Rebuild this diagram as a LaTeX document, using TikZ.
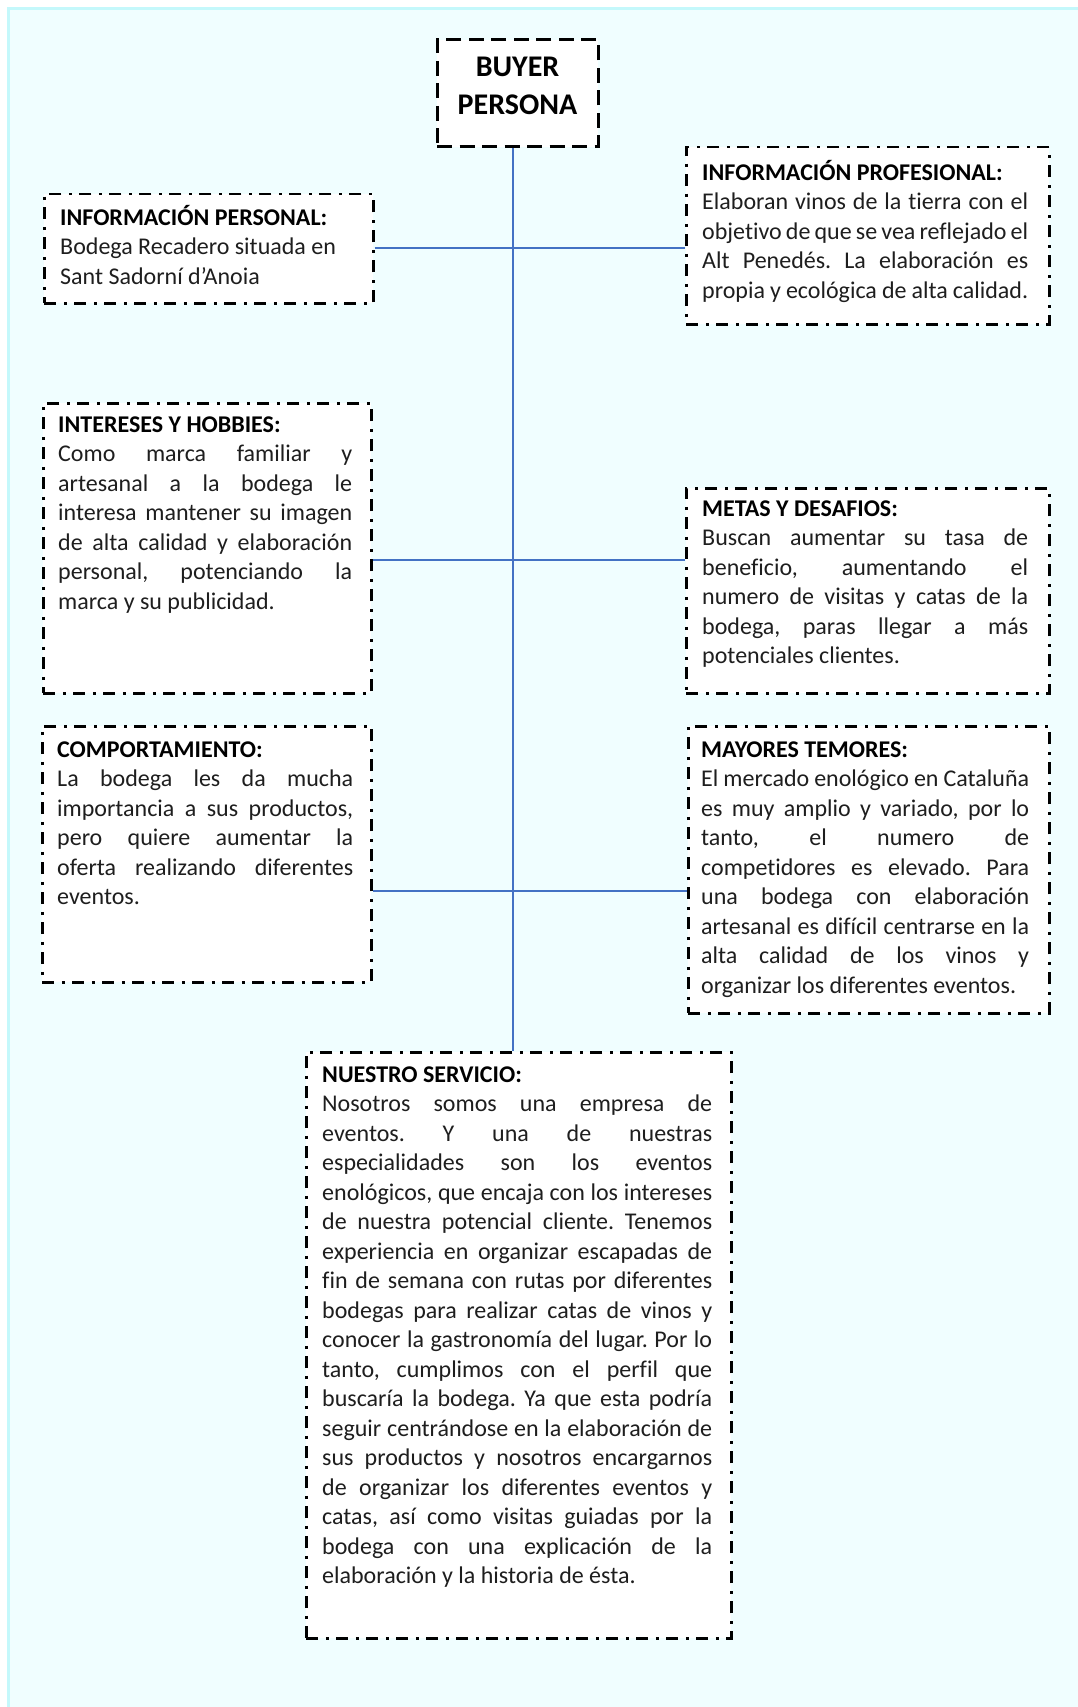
\documentclass[tikz,border=0pt]{standalone}
\usepackage{fontspec}
\setmainfont{Carlito}[Ligatures={NoCommon}]
\definecolor{pagecyan}{HTML}{F0FEFF}
\definecolor{framecyan}{HTML}{C4F8FB}
\definecolor{linkblue}{HTML}{4472C4}
\definecolor{ink}{HTML}{1E1E1E}
\hbadness=10000
\frenchspacing
\tikzset{
  panel/.style={draw=black, fill=white, line width=2.5pt,
    dash pattern=on 12pt off 7.5pt on 3pt off 7.5pt,
    anchor=north west, inner sep=0pt},
  titlebox/.style={draw=black, fill=white, line width=3pt,
    dash pattern=on 15pt off 7.5pt, inner sep=0pt,
    minimum width=161pt, minimum height=107pt},
  body/.style={anchor=north west, inner sep=0pt, align=justify, text=ink,
    font={\fontsize{24}{29.5}\selectfont\frenchspacing\spaceskip=0.226em plus 0.8em minus 0.12em\parskip=0pt}},
  link/.style={draw=linkblue, line width=2pt},
}
\newcommand{\hd}[2]{\rule{0pt}{#1pt}\textbf{\color{black}#2}\par}
\begin{document}
\begin{tikzpicture}[x=1pt,y=-1pt]
  \useasboundingbox (0,0) rectangle (1078,1707);
  % page background with its light frame
  \fill[white] (0,0) rectangle (1078,1707);
  \fill[pagecyan] (8.5,8.5) rectangle (1078,1707);
  \draw[framecyan, line width=3pt] (8.5,1707) -- (8.5,8.5) -- (1078,8.5);

  % title box
  \node[titlebox] (buyer) at (517.5,93.5) {};
  \node[font={\fontsize{30}{38}\selectfont\bfseries}, align=center, inner sep=0pt]
    (buyertext) at (517.5,86) {BUYER\\PERSONA};

  % panels
  \node[panel, minimum width=329pt, minimum height=109pt] (personal) at (43,193) {};
  \node[panel, minimum width=363pt, minimum height=177pt] (profesional) at (685,146) {};
  \node[panel, minimum width=328pt, minimum height=290pt] (intereses) at (42,402) {};
  \node[panel, minimum width=363pt, minimum height=205pt] (metas) at (685,487) {};
  \node[panel, minimum width=329pt, minimum height=256pt] (comportamiento) at (41,725) {};
  \node[panel, minimum width=361pt, minimum height=287pt] (temores) at (687,725) {};
  \node[panel, minimum width=425pt, minimum height=586pt] (servicio) at (305,1051) {};

  % panel texts
  \node[body, text width=300pt] (personaltext) at (60,193) {\hd{32}{INFORMACIÓN PERSONAL:}%
    Bodega Recadero situada en\newline Sant Sadorní d’Anoia};
  \node[body, text width=326pt] (profesionaltext) at (702,146) {\hd{34}{INFORMACIÓN PROFESIONAL:}%
    Elaboran vinos de la tierra con el\linebreak
    objetivo de que se vea reflejado el\linebreak
    Alt Penedés. La elaboración es\linebreak
    propia y ecológica de alta calidad.};
  \node[body, text width=294pt] (interesestext) at (58,402) {\hd{30}{INTERESES Y HOBBIES:}%
    Como marca familiar y\linebreak
    artesanal a la bodega le\linebreak
    interesa mantener su imagen\linebreak
    de alta calidad y elaboración\linebreak
    personal, potenciando la\linebreak
    marca y su publicidad.};
  \node[body, text width=326pt] (metastext) at (702,487) {\hd{29}{METAS Y DESAFIOS:}%
    Buscan aumentar su tasa de\linebreak
    beneficio, aumentando el\linebreak
    numero de visitas y catas de la\linebreak
    bodega, paras llegar a más\linebreak
    potenciales clientes.};
  \node[body, text width=296pt] (comportamientotext) at (57,725) {\hd{32}{COMPORTAMIENTO:}%
    La bodega les da mucha\linebreak
    importancia a sus productos,\linebreak
    pero quiere aumentar la\linebreak
    oferta realizando diferentes\linebreak
    eventos.};
  \node[body, text width=328pt] (temorestext) at (701,725) {\hd{32}{MAYORES TEMORES:}%
    El mercado enológico en Cataluña\linebreak
    es muy amplio y variado, por lo\linebreak
    tanto, el numero de\linebreak
    competidores es elevado. Para\linebreak
    una bodega con elaboración\linebreak
    artesanal es difícil centrarse en la\linebreak
    alta calidad de los vinos y\linebreak
    organizar los diferentes eventos.};
  \node[body, text width=390pt] (serviciotext) at (322,1051) {\hd{31}{NUESTRO SERVICIO:}%
    Nosotros somos una empresa de\linebreak
    eventos. Y una de nuestras\linebreak
    especialidades son los eventos\linebreak
    enológicos, que encaja con los intereses\linebreak
    de nuestra potencial cliente. Tenemos\linebreak
    experiencia en organizar escapadas de\linebreak
    fin de semana con rutas por diferentes\linebreak
    bodegas para realizar catas de vinos y\linebreak
    conocer la gastronomía del lugar. Por lo\linebreak
    tanto, cumplimos con el perfil que\linebreak
    buscaría la bodega. Ya que esta podría\linebreak
    seguir centrándose en la elaboración de\linebreak
    sus productos y nosotros encargarnos\linebreak
    de organizar los diferentes eventos y\linebreak
    catas, así como visitas guiadas por la\linebreak
    bodega con una explicación de la\linebreak
    elaboración y la historia de ésta.};

  % connectors: a central trunk and three cross branches
  \coordinate (trunk) at (513,0);
  \coordinate (row1) at (0,248);
  \coordinate (row2) at (0,560);
  \coordinate (row3) at (0,891);
  \draw[link] (buyer.south -| trunk) -- (servicio.north -| trunk);
  \draw[link] (personal.east |- row1) -- (profesional.west |- row1);
  \draw[link] (intereses.east |- row2) -- (metas.west |- row2);
  \draw[link] (comportamiento.east |- row3) -- (temores.west |- row3);
\end{tikzpicture}
\end{document}
